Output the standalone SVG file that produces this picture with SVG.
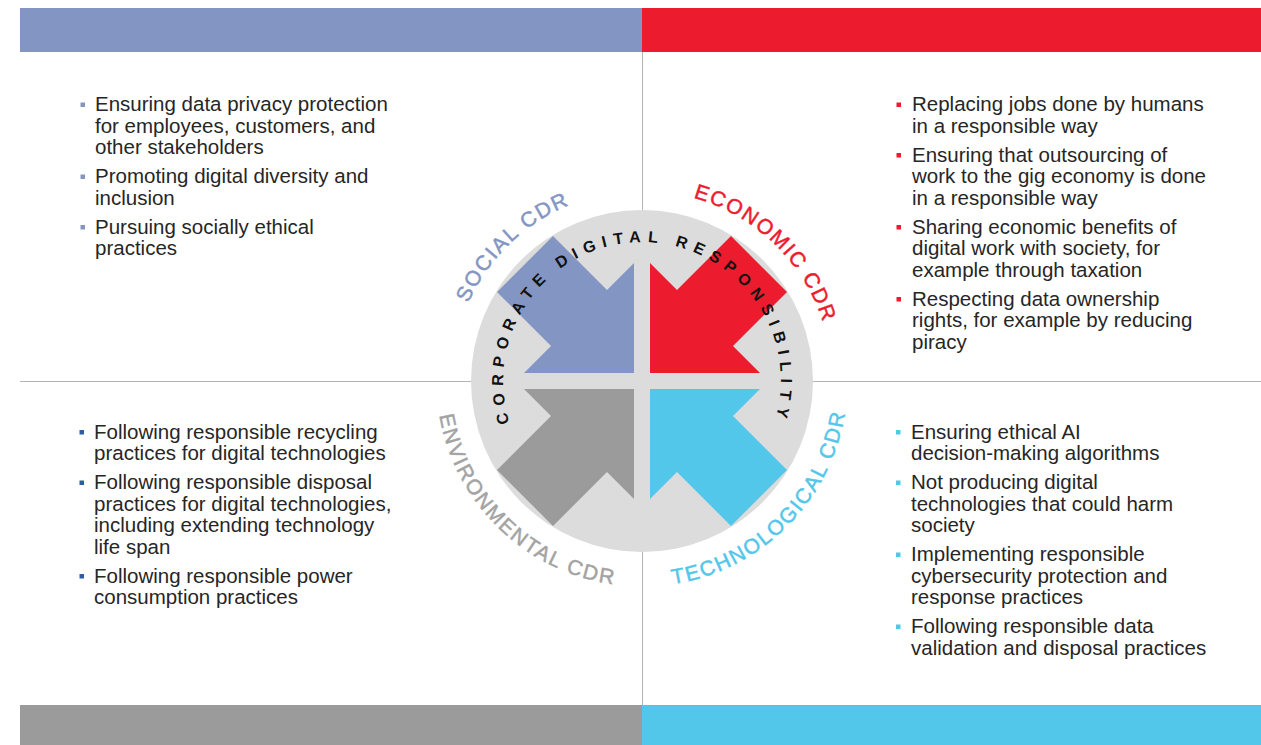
<svg xmlns="http://www.w3.org/2000/svg" xmlns:xlink="http://www.w3.org/1999/xlink" width="1261" height="745" viewBox="0 0 1261 745">
<style>
.body{font-family:"Liberation Sans",Arial,sans-serif;font-size:20.5px;fill:#262626}
.lbl{font-family:"Liberation Sans",Arial,sans-serif;font-size:21px;letter-spacing:1.8px;stroke-width:0.5}
.core{font-family:"Liberation Sans",Arial,sans-serif;font-size:16px;font-weight:bold;letter-spacing:6.7px;fill:#111}
.rule{stroke:#b4b4b4;stroke-width:1;fill:none}
</style>
<defs>
<polygon id="arrow" points="-8,-8 -8,-118 -35,-91 -89,-145 -145,-89 -91,-35 -118,-8"/>
<path id="pSocial" d="M457.2,427.1 A190.5,190.5 0 0 1 694.5,197.9"/>
<path id="pEcon" d="M589.5,197.9 A190.5,190.5 0 0 1 826.8,427.1"/>
<path id="pEnv" d="M442.6,331.3 A205.5,205.5 0 0 0 698.6,578.5"/>
<path id="pTech" d="M588.8,579.5 A205.5,205.5 0 0 0 840.5,327.8"/>
<path id="pCore" d="M521.8,450.4 A138.8,138.8 0 1 1 762.2,450.4"/>
</defs>
<rect width="1261" height="745" fill="#fff"/>
<g id="bars">
<rect x="20" y="8" width="622" height="44" fill="#8396c3"/>
<rect x="642" y="8" width="619" height="44" fill="#ec1c2e"/>
<rect x="20" y="705" width="622" height="40" fill="#9b9b9b"/>
<rect x="642" y="705" width="619" height="40" fill="#53c7ea"/>
</g>
<g id="connectors">
<line class="rule" x1="642.5" y1="52" x2="642.5" y2="705"/>
<line class="rule" x1="20" y1="381.5" x2="1261" y2="381.5"/>
</g>
<g id="hub-disc">
<circle cx="642" cy="381" r="171" fill="#dcdcdc"/>
</g>
<g id="social">
<use xlink:href="#arrow" transform="translate(642,381)" fill="#8396c3"/>
<text class="lbl" fill="#8396c3" stroke="#8396c3"><textPath xlink:href="#pSocial" startOffset="50%" text-anchor="middle">SOCIAL CDR</textPath></text>
<g fill="#8396c3"><rect x="80.5" y="102.5" width="4.5" height="4.5"/><rect x="80.5" y="174.5" width="4.5" height="4.5"/><rect x="80.5" y="225" width="4.5" height="4.5"/></g>
<text class="body"><tspan x="95" y="111">Ensuring data privacy protection</tspan><tspan x="95" y="132.5">for employees, customers, and</tspan><tspan x="95" y="154">other stakeholders</tspan><tspan x="95" y="183">Promoting digital diversity and</tspan><tspan x="95" y="204.5">inclusion</tspan><tspan x="95" y="233.5">Pursuing socially ethical</tspan><tspan x="95" y="255">practices</tspan></text>
</g>
<g id="economic">
<use xlink:href="#arrow" transform="translate(642,381) scale(-1,1)" fill="#ec1c2e"/>
<text class="lbl" fill="#ec1c2e" stroke="#ec1c2e"><textPath xlink:href="#pEcon" startOffset="50%" text-anchor="middle">ECONOMIC CDR</textPath></text>
<g fill="#ec1c2e"><rect x="896.5" y="102.5" width="4.5" height="4.5"/><rect x="896.5" y="153" width="4.5" height="4.5"/><rect x="896.5" y="225" width="4.5" height="4.5"/><rect x="896.5" y="297" width="4.5" height="4.5"/></g>
<text class="body"><tspan x="912" y="111">Replacing jobs done by humans</tspan><tspan x="912" y="132.5">in a responsible way</tspan><tspan x="912" y="161.5">Ensuring that outsourcing of</tspan><tspan x="912" y="183">work to the gig economy is done</tspan><tspan x="912" y="204.5">in a responsible way</tspan><tspan x="912" y="233.5">Sharing economic benefits of</tspan><tspan x="912" y="255">digital work with society, for</tspan><tspan x="912" y="276.5">example through taxation</tspan><tspan x="912" y="305.5">Respecting data ownership</tspan><tspan x="912" y="327">rights, for example by reducing</tspan><tspan x="912" y="348.5">piracy</tspan></text>
</g>
<g id="environmental">
<use xlink:href="#arrow" transform="translate(642,381) scale(1,-1)" fill="#9b9b9b"/>
<text class="lbl" fill="#a3a3a3" stroke="#a3a3a3"><textPath xlink:href="#pEnv" startOffset="50%" text-anchor="middle">ENVIRONMENTAL CDR</textPath></text>
<g fill="#2a5ea6"><rect x="79.5" y="430" width="4.5" height="4.5"/><rect x="79.5" y="480.5" width="4.5" height="4.5"/><rect x="79.5" y="574" width="4.5" height="4.5"/></g>
<text class="body"><tspan x="94" y="438.5">Following responsible recycling</tspan><tspan x="94" y="460">practices for digital technologies</tspan><tspan x="94" y="489">Following responsible disposal</tspan><tspan x="94" y="510.5">practices for digital technologies,</tspan><tspan x="94" y="532">including extending technology</tspan><tspan x="94" y="553.5">life span</tspan><tspan x="94" y="582.5">Following responsible power</tspan><tspan x="94" y="604">consumption practices</tspan></text>
</g>
<g id="technological">
<use xlink:href="#arrow" transform="translate(642,381) scale(-1,-1)" fill="#53c7ea"/>
<text class="lbl" fill="#53c7ea" stroke="#53c7ea"><textPath xlink:href="#pTech" startOffset="50%" text-anchor="middle">TECHNOLOGICAL CDR</textPath></text>
<g fill="#53c7ea"><rect x="896" y="430" width="4.5" height="4.5"/><rect x="896" y="480.5" width="4.5" height="4.5"/><rect x="896" y="552.5" width="4.5" height="4.5"/><rect x="896" y="624.5" width="4.5" height="4.5"/></g>
<text class="body"><tspan x="911" y="438.5">Ensuring ethical AI</tspan><tspan x="911" y="460">decision-making algorithms</tspan><tspan x="911" y="489">Not producing digital</tspan><tspan x="911" y="510.5">technologies that could harm</tspan><tspan x="911" y="532">society</tspan><tspan x="911" y="561">Implementing responsible</tspan><tspan x="911" y="582.5">cybersecurity protection and</tspan><tspan x="911" y="604">response practices</tspan><tspan x="911" y="633">Following responsible data</tspan><tspan x="911" y="654.5">validation and disposal practices</tspan></text>
</g>
<g id="hub-title">
<text class="core"><textPath xlink:href="#pCore" startOffset="50%" text-anchor="middle">CORPORATE DIGITAL RESPONSIBILITY</textPath></text>
</g>
</svg>
